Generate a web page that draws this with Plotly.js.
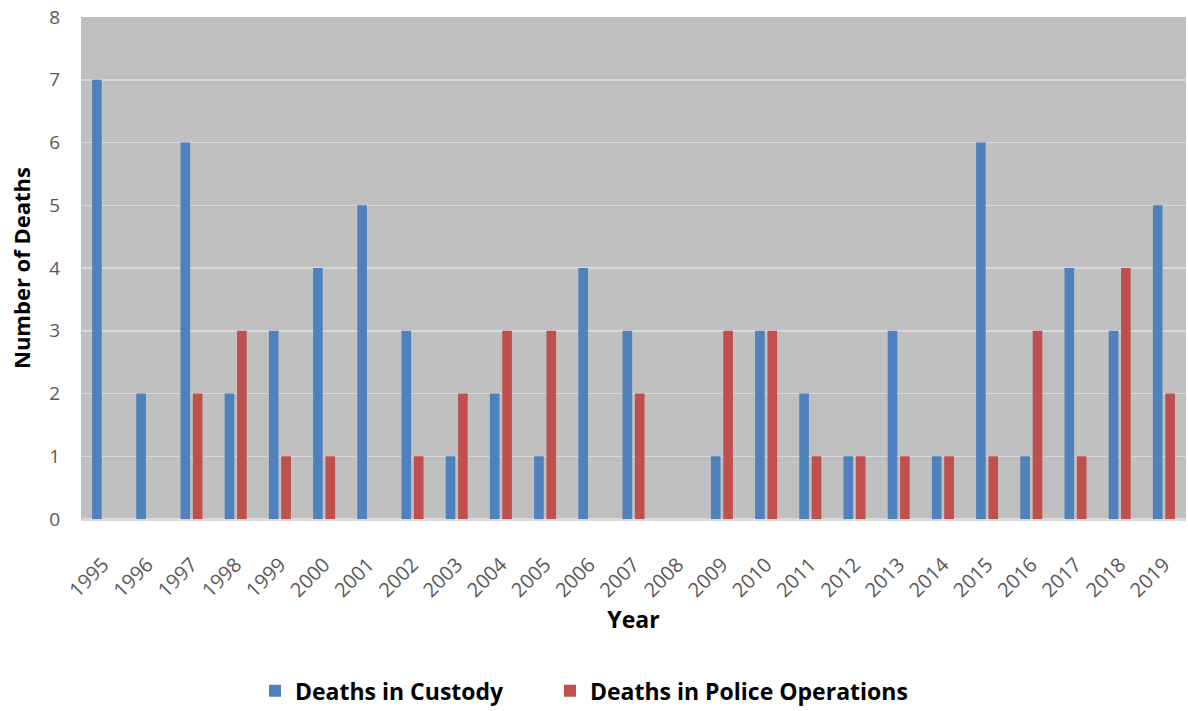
<!DOCTYPE html>
<html>
<head>
<meta charset="utf-8">
<script src="https://cdn.plot.ly/plotly-3.0.1.min.js"></script>
<style>html,body{margin:0;padding:0;background:#fff;}#chart{width:1188px;height:711px;}</style>
</head>
<body>
<div id="chart"></div>
<script>
const years = ["1995","1996","1997","1998","1999","2000","2001","2002","2003","2004","2005","2006","2007","2008","2009","2010","2011","2012","2013","2014","2015","2016","2017","2018","2019"];
const custody = [7,2,6,2,3,4,5,3,1,2,1,4,3,0,1,3,2,1,3,1,6,1,4,3,5];
const police  = [0,0,2,3,1,1,0,1,2,3,3,0,2,0,3,3,1,1,1,1,1,3,1,4,2];
const seriesNames = ["Deaths in Custody","Deaths in Police Operations"];

const font = "'Open Sans', 'Liberation Sans', sans-serif";
const data = [
  {type:'bar', name:seriesNames[0], x:years, y:custody, marker:{color:'#4f81bd'}, legend:'legend'},
  {type:'bar', name:seriesNames[1], x:years, y:police, marker:{color:'#c0504d'}, legend:'legend2'}
];
const legFont = {family:font, size:23, color:'#000000', weight:'bold'};
const L = 81, R = 1186, W = R - L;
const layout = {
  width:1188, height:711,
  margin:{l:81, r:2, t:17, b:192, autoexpand:false},
  paper_bgcolor:'#ffffff', plot_bgcolor:'#c0c0c0',
  barmode:'group', bargap:0.44, bargroupgap:0.22,
  font:{family:font, color:'#595959'},
  showlegend:true,
  legend:{orientation:'h', x:(255-L)/W, xanchor:'left', y:-0.342, yanchor:'middle',
          font:legFont, itemwidth:30},
  legend2:{orientation:'h', x:(550-L)/W, xanchor:'left', y:-0.342, yanchor:'middle',
          font:legFont, itemwidth:30},
  xaxis:{type:'category', tickangle:-45, tickfont:{size:20, color:'#595959'}, automargin:false,
         showgrid:false, showline:false, ticks:'', zeroline:false, ticklabelstandoff:29,
         title:{text:'<b>Year</b>', font:{size:23, color:'#000'}, standoff:5}},
  yaxis:{range:[0,8], dtick:1, tickfont:{size:19, color:'#595959'}, ticks:'', automargin:false,
         gridcolor:'#d9d9d9', gridwidth:1.5, zeroline:true, zerolinecolor:'#d9d9d9', zerolinewidth:3,
         showline:false, ticklabelstandoff:20,
         title:{text:'<b>Number of Deaths</b>', font:{size:22, color:'#000'}, standoff:12}}
};
Plotly.newPlot('chart', data, layout, {displayModeBar:false, staticPlot:true});
</script>
</body>
</html>
